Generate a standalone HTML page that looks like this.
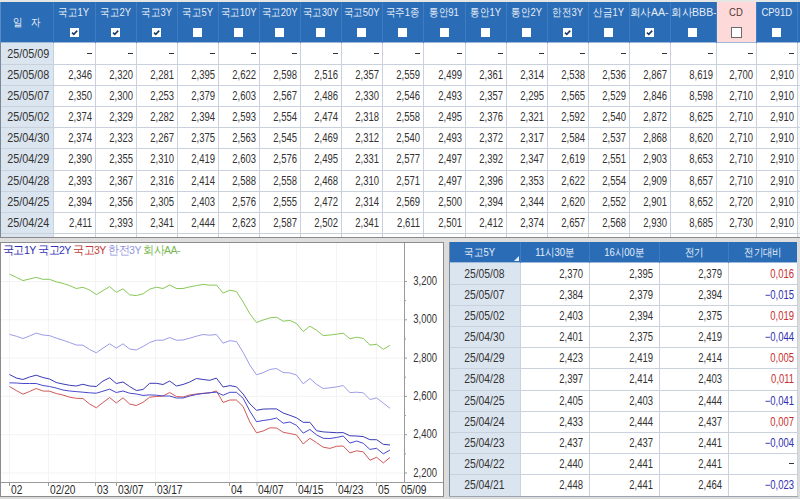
<!DOCTYPE html><html><head><meta charset="utf-8"><style>
html,body{margin:0;padding:0;}
body{width:800px;height:499px;overflow:hidden;position:relative;background:#dcdcdc;font-family:'Liberation Sans',sans-serif;}
.a{position:absolute;}
.n{position:absolute;text-align:right;font-size:12px;line-height:21px;padding-top:1px;color:#333;white-space:nowrap;}
.n span{display:inline-block;transform:scaleX(0.79);transform-origin:100% 50%;}
.d{position:absolute;text-align:center;font-size:12px;line-height:21px;padding-top:1px;padding-left:2px;color:#333;white-space:nowrap;}
.d span{display:inline-block;transform:scaleX(0.90);transform-origin:50% 50%;}
.ds{position:absolute;width:5px;height:1px;background:#333;}
.h{position:absolute;text-align:center;font-size:11px;line-height:12px;color:#e6eef8;white-space:nowrap;}
.h span{display:inline-block;transform:scaleX(0.86);transform-origin:50% 50%;}
.cb{position:absolute;width:9px;height:9px;background:#fff;}
.vl{position:absolute;width:1px;background:#c9d1dc;}
.hl{position:absolute;height:1px;background:#c9d1dc;}
</style></head><body>

<div class="a" style="left:0;top:0;width:800px;height:2px;background:#e6e6e4"></div>
<div class="a" style="left:0;top:2px;width:800px;height:41px;background:#2a6cb6"></div>
<div class="a" style="left:717px;top:2px;width:39px;height:41px;background:#fdd9d9"></div>
<div class="a" style="left:0;top:42px;width:800px;height:1px;background:#9fb9d8"></div>
<div class="a" style="left:0;top:43px;width:797px;height:194px;background:#fff"></div>
<div class="a" style="left:797px;top:43px;width:3px;height:194px;background:#f4f6f8"></div>
<div class="a" style="left:0;top:43px;width:53px;height:194px;background:#dbe5ef"></div>
<div class="h" style="left:0;top:16px;width:53px;"><span>일&nbsp;&nbsp;&nbsp;자</span></div>
<div class="h" style="left:53px;top:6px;width:42px;color:#e6eef8"><span>국고1Y</span></div>
<div class="cb" style="left:70px;top:28px;"></div>
<svg class="a" style="left:70px;top:28px" width="9" height="9" viewBox="0 0 9 9"><path d="M2 4.6 L3.8 6.4 L7.2 2.6" fill="none" stroke="#1d3c6a" stroke-width="1.6"/></svg>
<div class="h" style="left:95px;top:6px;width:41px;color:#e6eef8"><span>국고2Y</span></div>
<div class="cb" style="left:111px;top:28px;"></div>
<svg class="a" style="left:111px;top:28px" width="9" height="9" viewBox="0 0 9 9"><path d="M2 4.6 L3.8 6.4 L7.2 2.6" fill="none" stroke="#1d3c6a" stroke-width="1.6"/></svg>
<div class="h" style="left:136px;top:6px;width:41px;color:#e6eef8"><span>국고3Y</span></div>
<div class="cb" style="left:152px;top:28px;"></div>
<svg class="a" style="left:152px;top:28px" width="9" height="9" viewBox="0 0 9 9"><path d="M2 4.6 L3.8 6.4 L7.2 2.6" fill="none" stroke="#1d3c6a" stroke-width="1.6"/></svg>
<div class="h" style="left:177px;top:6px;width:41px;color:#e6eef8"><span>국고5Y</span></div>
<div class="cb" style="left:193px;top:28px;"></div>
<div class="h" style="left:218px;top:6px;width:41px;color:#e6eef8"><span>국고10Y</span></div>
<div class="cb" style="left:234px;top:28px;"></div>
<div class="h" style="left:259px;top:6px;width:41px;color:#e6eef8"><span>국고20Y</span></div>
<div class="cb" style="left:275px;top:28px;"></div>
<div class="h" style="left:300px;top:6px;width:41px;color:#e6eef8"><span>국고30Y</span></div>
<div class="cb" style="left:316px;top:28px;"></div>
<div class="h" style="left:341px;top:6px;width:41px;color:#e6eef8"><span>국고50Y</span></div>
<div class="cb" style="left:357px;top:28px;"></div>
<div class="h" style="left:382px;top:6px;width:41px;color:#e6eef8"><span>국주1종</span></div>
<div class="cb" style="left:398px;top:28px;"></div>
<div class="h" style="left:423px;top:6px;width:42px;color:#e6eef8"><span>통안91</span></div>
<div class="cb" style="left:440px;top:28px;"></div>
<div class="h" style="left:465px;top:6px;width:41px;color:#e6eef8"><span>통안1Y</span></div>
<div class="cb" style="left:481px;top:28px;"></div>
<div class="h" style="left:506px;top:6px;width:41px;color:#e6eef8"><span>통안2Y</span></div>
<div class="cb" style="left:522px;top:28px;"></div>
<div class="h" style="left:547px;top:6px;width:41px;color:#e6eef8"><span>한전3Y</span></div>
<div class="cb" style="left:563px;top:28px;"></div>
<svg class="a" style="left:563px;top:28px" width="9" height="9" viewBox="0 0 9 9"><path d="M2 4.6 L3.8 6.4 L7.2 2.6" fill="none" stroke="#1d3c6a" stroke-width="1.6"/></svg>
<div class="h" style="left:588px;top:6px;width:41px;color:#e6eef8"><span>산금1Y</span></div>
<div class="cb" style="left:604px;top:28px;"></div>
<div class="h" style="left:629px;top:6px;width:41px;color:#e6eef8"><span style="transform:scaleX(0.96)">회사AA-</span></div>
<div class="cb" style="left:645px;top:28px;"></div>
<svg class="a" style="left:645px;top:28px" width="9" height="9" viewBox="0 0 9 9"><path d="M2 4.6 L3.8 6.4 L7.2 2.6" fill="none" stroke="#1d3c6a" stroke-width="1.6"/></svg>
<div class="h" style="left:670px;top:6px;width:46px;color:#e6eef8"><span style="transform:scaleX(0.96)">회사BBB-</span></div>
<div class="cb" style="left:688px;top:28px;"></div>
<div class="h" style="left:716px;top:6px;width:40px;color:#533838"><span>CD</span></div>
<div class="cb" style="left:731px;top:27px;width:9px;height:9px;border:1px solid #6a6a6a;"></div>
<div class="h" style="left:756px;top:6px;width:41px;color:#e6eef8"><span>CP91D</span></div>
<div class="cb" style="left:772px;top:28px;"></div>
<div class="a" style="left:53px;top:2px;width:1px;height:41px;background:#3f7cc2"></div>
<div class="a" style="left:95px;top:2px;width:1px;height:41px;background:#3f7cc2"></div>
<div class="a" style="left:136px;top:2px;width:1px;height:41px;background:#3f7cc2"></div>
<div class="a" style="left:177px;top:2px;width:1px;height:41px;background:#3f7cc2"></div>
<div class="a" style="left:218px;top:2px;width:1px;height:41px;background:#3f7cc2"></div>
<div class="a" style="left:259px;top:2px;width:1px;height:41px;background:#3f7cc2"></div>
<div class="a" style="left:300px;top:2px;width:1px;height:41px;background:#3f7cc2"></div>
<div class="a" style="left:341px;top:2px;width:1px;height:41px;background:#3f7cc2"></div>
<div class="a" style="left:382px;top:2px;width:1px;height:41px;background:#3f7cc2"></div>
<div class="a" style="left:423px;top:2px;width:1px;height:41px;background:#3f7cc2"></div>
<div class="a" style="left:465px;top:2px;width:1px;height:41px;background:#3f7cc2"></div>
<div class="a" style="left:506px;top:2px;width:1px;height:41px;background:#3f7cc2"></div>
<div class="a" style="left:547px;top:2px;width:1px;height:41px;background:#3f7cc2"></div>
<div class="a" style="left:588px;top:2px;width:1px;height:41px;background:#3f7cc2"></div>
<div class="a" style="left:629px;top:2px;width:1px;height:41px;background:#3f7cc2"></div>
<div class="a" style="left:670px;top:2px;width:1px;height:41px;background:#3f7cc2"></div>
<div class="a" style="left:716px;top:2px;width:1px;height:41px;background:#3f7cc2"></div>
<div class="a" style="left:756px;top:2px;width:1px;height:41px;background:#3f7cc2"></div>
<div class="a" style="left:797px;top:2px;width:1px;height:41px;background:#3f7cc2"></div>
<div class="vl" style="left:53px;top:43px;height:194px;"></div>
<div class="vl" style="left:95px;top:43px;height:194px;"></div>
<div class="vl" style="left:136px;top:43px;height:194px;"></div>
<div class="vl" style="left:177px;top:43px;height:194px;"></div>
<div class="vl" style="left:218px;top:43px;height:194px;"></div>
<div class="vl" style="left:259px;top:43px;height:194px;"></div>
<div class="vl" style="left:300px;top:43px;height:194px;"></div>
<div class="vl" style="left:341px;top:43px;height:194px;"></div>
<div class="vl" style="left:382px;top:43px;height:194px;"></div>
<div class="vl" style="left:423px;top:43px;height:194px;"></div>
<div class="vl" style="left:465px;top:43px;height:194px;"></div>
<div class="vl" style="left:506px;top:43px;height:194px;"></div>
<div class="vl" style="left:547px;top:43px;height:194px;"></div>
<div class="vl" style="left:588px;top:43px;height:194px;"></div>
<div class="vl" style="left:629px;top:43px;height:194px;"></div>
<div class="vl" style="left:670px;top:43px;height:194px;"></div>
<div class="vl" style="left:716px;top:43px;height:194px;"></div>
<div class="vl" style="left:756px;top:43px;height:194px;"></div>
<div class="vl" style="left:797px;top:43px;height:194px;"></div>
<div class="hl" style="left:0;top:64px;width:800px;"></div>
<div class="hl" style="left:0;top:85px;width:800px;"></div>
<div class="hl" style="left:0;top:106px;width:800px;"></div>
<div class="hl" style="left:0;top:127px;width:800px;"></div>
<div class="hl" style="left:0;top:148px;width:800px;"></div>
<div class="hl" style="left:0;top:170px;width:800px;"></div>
<div class="hl" style="left:0;top:191px;width:800px;"></div>
<div class="hl" style="left:0;top:212px;width:800px;"></div>
<div class="hl" style="left:0;top:233px;width:800px;"></div>
<div class="d" style="left:0;top:43px;width:53px;"><span>25/05/09</span></div>
<div class="ds" style="left:87px;top:53px;"></div>
<div class="ds" style="left:128px;top:53px;"></div>
<div class="ds" style="left:169px;top:53px;"></div>
<div class="ds" style="left:210px;top:53px;"></div>
<div class="ds" style="left:251px;top:53px;"></div>
<div class="ds" style="left:292px;top:53px;"></div>
<div class="ds" style="left:333px;top:53px;"></div>
<div class="ds" style="left:374px;top:53px;"></div>
<div class="ds" style="left:415px;top:53px;"></div>
<div class="ds" style="left:457px;top:53px;"></div>
<div class="ds" style="left:498px;top:53px;"></div>
<div class="ds" style="left:539px;top:53px;"></div>
<div class="ds" style="left:580px;top:53px;"></div>
<div class="ds" style="left:621px;top:53px;"></div>
<div class="ds" style="left:662px;top:53px;"></div>
<div class="ds" style="left:708px;top:53px;"></div>
<div class="ds" style="left:748px;top:53px;"></div>
<div class="ds" style="left:789px;top:53px;"></div>
<div class="d" style="left:0;top:64px;width:53px;"><span>25/05/08</span></div>
<div class="n" style="left:53px;top:64px;width:39px;"><span>2,346</span></div>
<div class="n" style="left:95px;top:64px;width:38px;"><span>2,320</span></div>
<div class="n" style="left:136px;top:64px;width:38px;"><span>2,281</span></div>
<div class="n" style="left:177px;top:64px;width:38px;"><span>2,395</span></div>
<div class="n" style="left:218px;top:64px;width:38px;"><span>2,622</span></div>
<div class="n" style="left:259px;top:64px;width:38px;"><span>2,598</span></div>
<div class="n" style="left:300px;top:64px;width:38px;"><span>2,516</span></div>
<div class="n" style="left:341px;top:64px;width:38px;"><span>2,357</span></div>
<div class="n" style="left:382px;top:64px;width:38px;"><span>2,559</span></div>
<div class="n" style="left:423px;top:64px;width:39px;"><span>2,499</span></div>
<div class="n" style="left:465px;top:64px;width:38px;"><span>2,361</span></div>
<div class="n" style="left:506px;top:64px;width:38px;"><span>2,314</span></div>
<div class="n" style="left:547px;top:64px;width:38px;"><span>2,538</span></div>
<div class="n" style="left:588px;top:64px;width:38px;"><span>2,536</span></div>
<div class="n" style="left:629px;top:64px;width:38px;"><span>2,867</span></div>
<div class="n" style="left:670px;top:64px;width:43px;"><span>8,619</span></div>
<div class="n" style="left:716px;top:64px;width:37px;"><span>2,700</span></div>
<div class="n" style="left:756px;top:64px;width:38px;"><span>2,910</span></div>
<div class="d" style="left:0;top:85px;width:53px;"><span>25/05/07</span></div>
<div class="n" style="left:53px;top:85px;width:39px;"><span>2,350</span></div>
<div class="n" style="left:95px;top:85px;width:38px;"><span>2,300</span></div>
<div class="n" style="left:136px;top:85px;width:38px;"><span>2,253</span></div>
<div class="n" style="left:177px;top:85px;width:38px;"><span>2,379</span></div>
<div class="n" style="left:218px;top:85px;width:38px;"><span>2,603</span></div>
<div class="n" style="left:259px;top:85px;width:38px;"><span>2,567</span></div>
<div class="n" style="left:300px;top:85px;width:38px;"><span>2,486</span></div>
<div class="n" style="left:341px;top:85px;width:38px;"><span>2,330</span></div>
<div class="n" style="left:382px;top:85px;width:38px;"><span>2,546</span></div>
<div class="n" style="left:423px;top:85px;width:39px;"><span>2,493</span></div>
<div class="n" style="left:465px;top:85px;width:38px;"><span>2,357</span></div>
<div class="n" style="left:506px;top:85px;width:38px;"><span>2,295</span></div>
<div class="n" style="left:547px;top:85px;width:38px;"><span>2,565</span></div>
<div class="n" style="left:588px;top:85px;width:38px;"><span>2,529</span></div>
<div class="n" style="left:629px;top:85px;width:38px;"><span>2,846</span></div>
<div class="n" style="left:670px;top:85px;width:43px;"><span>8,598</span></div>
<div class="n" style="left:716px;top:85px;width:37px;"><span>2,710</span></div>
<div class="n" style="left:756px;top:85px;width:38px;"><span>2,910</span></div>
<div class="d" style="left:0;top:106px;width:53px;"><span>25/05/02</span></div>
<div class="n" style="left:53px;top:106px;width:39px;"><span>2,374</span></div>
<div class="n" style="left:95px;top:106px;width:38px;"><span>2,329</span></div>
<div class="n" style="left:136px;top:106px;width:38px;"><span>2,282</span></div>
<div class="n" style="left:177px;top:106px;width:38px;"><span>2,394</span></div>
<div class="n" style="left:218px;top:106px;width:38px;"><span>2,593</span></div>
<div class="n" style="left:259px;top:106px;width:38px;"><span>2,554</span></div>
<div class="n" style="left:300px;top:106px;width:38px;"><span>2,474</span></div>
<div class="n" style="left:341px;top:106px;width:38px;"><span>2,318</span></div>
<div class="n" style="left:382px;top:106px;width:38px;"><span>2,558</span></div>
<div class="n" style="left:423px;top:106px;width:39px;"><span>2,495</span></div>
<div class="n" style="left:465px;top:106px;width:38px;"><span>2,376</span></div>
<div class="n" style="left:506px;top:106px;width:38px;"><span>2,321</span></div>
<div class="n" style="left:547px;top:106px;width:38px;"><span>2,592</span></div>
<div class="n" style="left:588px;top:106px;width:38px;"><span>2,540</span></div>
<div class="n" style="left:629px;top:106px;width:38px;"><span>2,872</span></div>
<div class="n" style="left:670px;top:106px;width:43px;"><span>8,625</span></div>
<div class="n" style="left:716px;top:106px;width:37px;"><span>2,710</span></div>
<div class="n" style="left:756px;top:106px;width:38px;"><span>2,910</span></div>
<div class="d" style="left:0;top:127px;width:53px;"><span>25/04/30</span></div>
<div class="n" style="left:53px;top:127px;width:39px;"><span>2,374</span></div>
<div class="n" style="left:95px;top:127px;width:38px;"><span>2,323</span></div>
<div class="n" style="left:136px;top:127px;width:38px;"><span>2,267</span></div>
<div class="n" style="left:177px;top:127px;width:38px;"><span>2,375</span></div>
<div class="n" style="left:218px;top:127px;width:38px;"><span>2,563</span></div>
<div class="n" style="left:259px;top:127px;width:38px;"><span>2,545</span></div>
<div class="n" style="left:300px;top:127px;width:38px;"><span>2,469</span></div>
<div class="n" style="left:341px;top:127px;width:38px;"><span>2,312</span></div>
<div class="n" style="left:382px;top:127px;width:38px;"><span>2,540</span></div>
<div class="n" style="left:423px;top:127px;width:39px;"><span>2,493</span></div>
<div class="n" style="left:465px;top:127px;width:38px;"><span>2,372</span></div>
<div class="n" style="left:506px;top:127px;width:38px;"><span>2,317</span></div>
<div class="n" style="left:547px;top:127px;width:38px;"><span>2,584</span></div>
<div class="n" style="left:588px;top:127px;width:38px;"><span>2,537</span></div>
<div class="n" style="left:629px;top:127px;width:38px;"><span>2,868</span></div>
<div class="n" style="left:670px;top:127px;width:43px;"><span>8,620</span></div>
<div class="n" style="left:716px;top:127px;width:37px;"><span>2,710</span></div>
<div class="n" style="left:756px;top:127px;width:38px;"><span>2,910</span></div>
<div class="d" style="left:0;top:148px;width:53px;"><span>25/04/29</span></div>
<div class="n" style="left:53px;top:148px;width:39px;"><span>2,390</span></div>
<div class="n" style="left:95px;top:148px;width:38px;"><span>2,355</span></div>
<div class="n" style="left:136px;top:148px;width:38px;"><span>2,310</span></div>
<div class="n" style="left:177px;top:148px;width:38px;"><span>2,419</span></div>
<div class="n" style="left:218px;top:148px;width:38px;"><span>2,603</span></div>
<div class="n" style="left:259px;top:148px;width:38px;"><span>2,576</span></div>
<div class="n" style="left:300px;top:148px;width:38px;"><span>2,495</span></div>
<div class="n" style="left:341px;top:148px;width:38px;"><span>2,331</span></div>
<div class="n" style="left:382px;top:148px;width:38px;"><span>2,577</span></div>
<div class="n" style="left:423px;top:148px;width:39px;"><span>2,497</span></div>
<div class="n" style="left:465px;top:148px;width:38px;"><span>2,392</span></div>
<div class="n" style="left:506px;top:148px;width:38px;"><span>2,347</span></div>
<div class="n" style="left:547px;top:148px;width:38px;"><span>2,619</span></div>
<div class="n" style="left:588px;top:148px;width:38px;"><span>2,551</span></div>
<div class="n" style="left:629px;top:148px;width:38px;"><span>2,903</span></div>
<div class="n" style="left:670px;top:148px;width:43px;"><span>8,653</span></div>
<div class="n" style="left:716px;top:148px;width:37px;"><span>2,710</span></div>
<div class="n" style="left:756px;top:148px;width:38px;"><span>2,910</span></div>
<div class="d" style="left:0;top:170px;width:53px;"><span>25/04/28</span></div>
<div class="n" style="left:53px;top:170px;width:39px;"><span>2,393</span></div>
<div class="n" style="left:95px;top:170px;width:38px;"><span>2,367</span></div>
<div class="n" style="left:136px;top:170px;width:38px;"><span>2,316</span></div>
<div class="n" style="left:177px;top:170px;width:38px;"><span>2,414</span></div>
<div class="n" style="left:218px;top:170px;width:38px;"><span>2,588</span></div>
<div class="n" style="left:259px;top:170px;width:38px;"><span>2,558</span></div>
<div class="n" style="left:300px;top:170px;width:38px;"><span>2,468</span></div>
<div class="n" style="left:341px;top:170px;width:38px;"><span>2,310</span></div>
<div class="n" style="left:382px;top:170px;width:38px;"><span>2,571</span></div>
<div class="n" style="left:423px;top:170px;width:39px;"><span>2,497</span></div>
<div class="n" style="left:465px;top:170px;width:38px;"><span>2,396</span></div>
<div class="n" style="left:506px;top:170px;width:38px;"><span>2,353</span></div>
<div class="n" style="left:547px;top:170px;width:38px;"><span>2,622</span></div>
<div class="n" style="left:588px;top:170px;width:38px;"><span>2,554</span></div>
<div class="n" style="left:629px;top:170px;width:38px;"><span>2,909</span></div>
<div class="n" style="left:670px;top:170px;width:43px;"><span>8,657</span></div>
<div class="n" style="left:716px;top:170px;width:37px;"><span>2,710</span></div>
<div class="n" style="left:756px;top:170px;width:38px;"><span>2,910</span></div>
<div class="d" style="left:0;top:191px;width:53px;"><span>25/04/25</span></div>
<div class="n" style="left:53px;top:191px;width:39px;"><span>2,394</span></div>
<div class="n" style="left:95px;top:191px;width:38px;"><span>2,356</span></div>
<div class="n" style="left:136px;top:191px;width:38px;"><span>2,305</span></div>
<div class="n" style="left:177px;top:191px;width:38px;"><span>2,403</span></div>
<div class="n" style="left:218px;top:191px;width:38px;"><span>2,576</span></div>
<div class="n" style="left:259px;top:191px;width:38px;"><span>2,555</span></div>
<div class="n" style="left:300px;top:191px;width:38px;"><span>2,472</span></div>
<div class="n" style="left:341px;top:191px;width:38px;"><span>2,314</span></div>
<div class="n" style="left:382px;top:191px;width:38px;"><span>2,569</span></div>
<div class="n" style="left:423px;top:191px;width:39px;"><span>2,500</span></div>
<div class="n" style="left:465px;top:191px;width:38px;"><span>2,394</span></div>
<div class="n" style="left:506px;top:191px;width:38px;"><span>2,344</span></div>
<div class="n" style="left:547px;top:191px;width:38px;"><span>2,620</span></div>
<div class="n" style="left:588px;top:191px;width:38px;"><span>2,552</span></div>
<div class="n" style="left:629px;top:191px;width:38px;"><span>2,901</span></div>
<div class="n" style="left:670px;top:191px;width:43px;"><span>8,652</span></div>
<div class="n" style="left:716px;top:191px;width:37px;"><span>2,720</span></div>
<div class="n" style="left:756px;top:191px;width:38px;"><span>2,910</span></div>
<div class="d" style="left:0;top:212px;width:53px;"><span>25/04/24</span></div>
<div class="n" style="left:53px;top:212px;width:39px;"><span>2,411</span></div>
<div class="n" style="left:95px;top:212px;width:38px;"><span>2,393</span></div>
<div class="n" style="left:136px;top:212px;width:38px;"><span>2,341</span></div>
<div class="n" style="left:177px;top:212px;width:38px;"><span>2,444</span></div>
<div class="n" style="left:218px;top:212px;width:38px;"><span>2,623</span></div>
<div class="n" style="left:259px;top:212px;width:38px;"><span>2,587</span></div>
<div class="n" style="left:300px;top:212px;width:38px;"><span>2,502</span></div>
<div class="n" style="left:341px;top:212px;width:38px;"><span>2,341</span></div>
<div class="n" style="left:382px;top:212px;width:38px;"><span>2,611</span></div>
<div class="n" style="left:423px;top:212px;width:39px;"><span>2,501</span></div>
<div class="n" style="left:465px;top:212px;width:38px;"><span>2,412</span></div>
<div class="n" style="left:506px;top:212px;width:38px;"><span>2,374</span></div>
<div class="n" style="left:547px;top:212px;width:38px;"><span>2,657</span></div>
<div class="n" style="left:588px;top:212px;width:38px;"><span>2,568</span></div>
<div class="n" style="left:629px;top:212px;width:38px;"><span>2,930</span></div>
<div class="n" style="left:670px;top:212px;width:43px;"><span>8,685</span></div>
<div class="n" style="left:716px;top:212px;width:37px;"><span>2,730</span></div>
<div class="n" style="left:756px;top:212px;width:38px;"><span>2,910</span></div>
<div class="a" style="left:0;top:2px;width:1px;height:41px;background:#5a8cc8"></div>
<div class="a" style="left:0;top:43px;width:1px;height:194px;background:#7a8898"></div>
<div class="a" style="left:0;top:237px;width:800px;height:1px;background:#8a8a8a"></div>
<div class="a" style="left:0;top:238px;width:800px;height:4px;background:#dedede"></div>
<div class="a" style="left:0;top:242px;width:444px;height:255px;background:#fff"></div>
<svg class="a" style="left:0;top:0" width="800" height="499" viewBox="0 0 800 499">
<rect x="0.5" y="242.5" width="443" height="254" fill="none" stroke="#8c8c8c" stroke-width="1"/>
<line x1="1" y1="281.5" x2="404" y2="281.5" stroke="#f3f3f3" stroke-width="1"/>
<line x1="1" y1="319.8" x2="404" y2="319.8" stroke="#f3f3f3" stroke-width="1"/>
<line x1="1" y1="358.1" x2="404" y2="358.1" stroke="#f3f3f3" stroke-width="1"/>
<line x1="1" y1="396.4" x2="404" y2="396.4" stroke="#f3f3f3" stroke-width="1"/>
<line x1="1" y1="434.7" x2="404" y2="434.7" stroke="#f3f3f3" stroke-width="1"/>
<line x1="1" y1="473.0" x2="404" y2="473.0" stroke="#f3f3f3" stroke-width="1"/>
<line x1="9.5" y1="243" x2="9.5" y2="482" stroke="#f3f3f3" stroke-width="1"/>
<line x1="48.5" y1="243" x2="48.5" y2="482" stroke="#f3f3f3" stroke-width="1"/>
<line x1="95.5" y1="243" x2="95.5" y2="482" stroke="#f3f3f3" stroke-width="1"/>
<line x1="116.5" y1="243" x2="116.5" y2="482" stroke="#f3f3f3" stroke-width="1"/>
<line x1="155.5" y1="243" x2="155.5" y2="482" stroke="#f3f3f3" stroke-width="1"/>
<line x1="229.5" y1="243" x2="229.5" y2="482" stroke="#f3f3f3" stroke-width="1"/>
<line x1="257.0" y1="243" x2="257.0" y2="482" stroke="#f3f3f3" stroke-width="1"/>
<line x1="296.5" y1="243" x2="296.5" y2="482" stroke="#f3f3f3" stroke-width="1"/>
<line x1="336.5" y1="243" x2="336.5" y2="482" stroke="#f3f3f3" stroke-width="1"/>
<line x1="376.5" y1="243" x2="376.5" y2="482" stroke="#f3f3f3" stroke-width="1"/>
<line x1="404.5" y1="243" x2="404.5" y2="482.5" stroke="#9a9a9a" stroke-width="1"/>
<line x1="1" y1="482.5" x2="443" y2="482.5" stroke="#9a9a9a" stroke-width="1"/>
<line x1="404" y1="281.5" x2="407" y2="281.5" stroke="#9a9a9a" stroke-width="1"/>
<line x1="404" y1="319.8" x2="407" y2="319.8" stroke="#9a9a9a" stroke-width="1"/>
<line x1="404" y1="300.6" x2="406" y2="300.6" stroke="#9a9a9a" stroke-width="1"/>
<line x1="404" y1="358.1" x2="407" y2="358.1" stroke="#9a9a9a" stroke-width="1"/>
<line x1="404" y1="338.9" x2="406" y2="338.9" stroke="#9a9a9a" stroke-width="1"/>
<line x1="404" y1="396.4" x2="407" y2="396.4" stroke="#9a9a9a" stroke-width="1"/>
<line x1="404" y1="377.2" x2="406" y2="377.2" stroke="#9a9a9a" stroke-width="1"/>
<line x1="404" y1="434.7" x2="407" y2="434.7" stroke="#9a9a9a" stroke-width="1"/>
<line x1="404" y1="415.6" x2="406" y2="415.6" stroke="#9a9a9a" stroke-width="1"/>
<line x1="404" y1="473.0" x2="407" y2="473.0" stroke="#9a9a9a" stroke-width="1"/>
<line x1="404" y1="453.9" x2="406" y2="453.9" stroke="#9a9a9a" stroke-width="1"/>
<line x1="9.5" y1="482" x2="9.5" y2="486" stroke="#9a9a9a" stroke-width="1"/>
<line x1="48.5" y1="482" x2="48.5" y2="486" stroke="#9a9a9a" stroke-width="1"/>
<line x1="95.5" y1="482" x2="95.5" y2="486" stroke="#9a9a9a" stroke-width="1"/>
<line x1="116.5" y1="482" x2="116.5" y2="486" stroke="#9a9a9a" stroke-width="1"/>
<line x1="155.5" y1="482" x2="155.5" y2="486" stroke="#9a9a9a" stroke-width="1"/>
<line x1="229.5" y1="482" x2="229.5" y2="486" stroke="#9a9a9a" stroke-width="1"/>
<line x1="257.0" y1="482" x2="257.0" y2="486" stroke="#9a9a9a" stroke-width="1"/>
<line x1="296.5" y1="482" x2="296.5" y2="486" stroke="#9a9a9a" stroke-width="1"/>
<line x1="336.5" y1="482" x2="336.5" y2="486" stroke="#9a9a9a" stroke-width="1"/>
<line x1="376.5" y1="482" x2="376.5" y2="486" stroke="#9a9a9a" stroke-width="1"/>
<polyline points="9.5,274.2 16.2,277.2 22.9,280.6 29.5,279.0 36.2,277.4 42.9,279.3 49.5,279.3 56.2,281.8 62.9,283.4 69.6,285.6 76.2,288.5 82.9,287.3 89.6,290.0 96.3,294.6 103.0,290.6 109.6,286.6 116.3,292.3 123.0,288.8 129.6,294.8 136.3,295.6 143.0,293.8 149.7,289.2 156.3,287.2 163.0,288.5 169.7,285.0 176.4,288.5 183.0,288.5 189.7,286.9 196.4,285.6 203.1,284.4 209.8,285.2 216.4,285.0 223.1,293.1 229.8,290.2 236.4,291.5 243.1,301.9 249.8,313.8 256.5,322.5 263.1,320.0 269.8,317.9 276.5,317.2 283.2,321.2 289.8,320.4 296.5,323.5 303.2,331.5 309.9,326.2 316.6,330.2 323.2,335.6 329.9,335.0 336.6,334.2 343.2,333.2 349.9,338.8 356.6,337.2 363.3,338.4 369.9,345.1 376.6,344.3 383.3,349.3 390.0,345.3" fill="none" stroke="#88c858" stroke-width="1"/>
<polyline points="9.5,334.4 16.2,336.2 22.9,338.5 29.5,336.0 36.2,333.1 42.9,335.0 49.5,335.6 56.2,338.1 62.9,340.2 69.6,342.5 76.2,345.0 82.9,345.2 89.6,349.5 96.3,352.8 103.0,348.1 109.6,343.8 116.3,348.1 123.0,343.8 129.6,349.0 136.3,350.0 143.0,346.5 149.7,342.5 156.3,340.2 163.0,340.2 169.7,337.5 176.4,340.2 183.0,340.0 189.7,338.2 196.4,336.2 203.1,334.5 209.8,335.2 216.4,334.5 223.1,343.2 229.8,340.7 236.4,341.5 243.1,352.3 249.8,365.0 256.5,374.8 263.1,372.7 269.8,369.5 276.5,368.5 283.2,372.5 289.8,372.9 296.5,375.0 303.2,383.8 309.9,378.5 316.6,384.4 323.2,388.5 329.9,387.8 336.6,386.9 343.2,385.5 349.9,392.6 356.6,392.2 363.3,392.8 369.9,399.5 376.6,397.9 383.3,403.1 390.0,408.3" fill="none" stroke="#9c9ce8" stroke-width="1"/>
<polyline points="9.5,386.5 16.2,390.5 22.9,394.2 29.5,391.5 36.2,388.5 42.9,391.0 49.5,391.2 56.2,393.5 62.9,395.0 69.6,397.2 76.2,398.3 82.9,398.5 89.6,404.0 96.3,407.8 103.0,402.5 109.6,397.5 116.3,403.0 123.0,397.8 129.6,404.0 136.3,405.5 143.0,402.3 149.7,397.2 156.3,396.5 163.0,396.0 169.7,392.5 176.4,396.5 183.0,397.0 189.7,395.0 196.4,394.0 203.1,393.3 209.8,393.0 216.4,390.9 223.1,402.5 229.8,400.0 236.4,400.0 243.1,406.5 249.8,422.0 256.5,432.8 263.1,431.0 269.8,427.8 276.5,428.0 283.2,432.3 289.8,433.5 296.5,434.9 303.2,443.9 309.9,438.3 316.6,442.7 323.2,447.2 329.9,448.4 336.6,446.3 343.2,446.0 349.9,452.9 356.6,450.8 363.3,451.9 369.9,460.2 376.6,457.3 383.3,462.9 390.0,457.5" fill="none" stroke="#d05858" stroke-width="1"/>
<polyline points="9.5,382.8 16.2,383.0 22.9,383.5 29.5,383.5 36.2,383.5 42.9,385.5 49.5,386.5 56.2,388.0 62.9,390.0 69.6,391.0 76.2,391.6 82.9,392.2 89.6,392.8 96.3,393.2 103.0,391.2 109.6,389.2 116.3,392.5 123.0,391.0 129.6,393.2 136.3,394.0 143.0,395.4 149.7,394.9 156.3,395.2 163.0,396.0 169.7,396.0 176.4,398.0 183.0,398.0 189.7,396.0 196.4,394.5 203.1,393.5 209.8,392.6 216.4,392.2 223.1,395.3 229.8,392.3 236.4,392.3 243.1,398.2 249.8,411.0 256.5,421.7 263.1,420.5 269.8,419.6 276.5,418.0 283.2,423.2 289.8,422.0 296.5,425.3 303.2,433.1 309.9,429.5 316.6,434.9 323.2,438.3 329.9,438.5 336.6,437.5 343.2,436.0 349.9,443.1 356.6,441.0 363.3,443.3 369.9,449.4 376.6,448.3 383.3,453.9 390.0,450.0" fill="none" stroke="#4848cc" stroke-width="1"/>
<polyline points="9.5,374.5 16.2,378.0 22.9,379.5 29.5,377.0 36.2,375.2 42.9,377.5 49.5,379.0 56.2,382.5 62.9,384.0 69.6,385.3 76.2,386.0 82.9,384.3 89.6,386.0 96.3,386.5 103.0,381.0 109.6,377.8 116.3,383.5 123.0,382.0 129.6,386.5 136.3,390.5 143.0,389.5 149.7,383.3 156.3,383.3 163.0,384.5 169.7,381.0 176.4,386.0 183.0,384.5 189.7,382.0 196.4,378.5 203.1,379.5 209.8,380.3 216.4,378.1 223.1,387.0 229.8,385.6 236.4,386.8 243.1,394.0 249.8,403.8 256.5,410.3 263.1,409.1 269.8,408.9 276.5,408.9 283.2,413.0 289.8,415.3 296.5,417.8 303.2,422.3 309.9,422.3 316.6,430.7 323.2,431.9 329.9,432.3 336.6,432.7 343.2,432.6 349.9,435.8 356.6,436.0 363.3,436.6 369.9,439.7 376.6,439.7 383.3,444.3 390.0,445.0" fill="none" stroke="#3a3ab6" stroke-width="1"/>
</svg>
<div class="a" style="left:3px;top:243px;font-size:11.5px;line-height:14px;white-space:nowrap;letter-spacing:-0.6px;transform:scaleX(0.92);transform-origin:0 50%"><span style="color:#2c2ca8">국고1Y</span> <span style="color:#3434b8">국고2Y</span> <span style="color:#c03a3a">국고3Y</span> <span style="color:#9494e0">한전3Y</span> <span style="color:#78b850">회사AA-</span></div>
<div class="n" style="left:405px;top:273.0px;width:32px;line-height:14px;"><span>3,200</span></div>
<div class="n" style="left:405px;top:311.3px;width:32px;line-height:14px;"><span>3,000</span></div>
<div class="n" style="left:405px;top:349.6px;width:32px;line-height:14px;"><span>2,800</span></div>
<div class="n" style="left:405px;top:387.9px;width:32px;line-height:14px;"><span>2,600</span></div>
<div class="n" style="left:405px;top:426.2px;width:32px;line-height:14px;"><span>2,400</span></div>
<div class="n" style="left:405px;top:464.5px;width:32px;line-height:14px;"><span>2,200</span></div>
<div class="a" style="left:10.5px;top:482.5px;font-size:12px;line-height:14px;color:#2a2a2a;white-space:nowrap"><span style="display:inline-block;transform:scaleX(0.85);transform-origin:0 50%">02</span></div>
<div class="a" style="left:49.5px;top:482.5px;font-size:12px;line-height:14px;color:#2a2a2a;white-space:nowrap"><span style="display:inline-block;transform:scaleX(0.85);transform-origin:0 50%">02/20</span></div>
<div class="a" style="left:96.5px;top:482.5px;font-size:12px;line-height:14px;color:#2a2a2a;white-space:nowrap"><span style="display:inline-block;transform:scaleX(0.85);transform-origin:0 50%">03</span></div>
<div class="a" style="left:117.5px;top:482.5px;font-size:12px;line-height:14px;color:#2a2a2a;white-space:nowrap"><span style="display:inline-block;transform:scaleX(0.85);transform-origin:0 50%">03/07</span></div>
<div class="a" style="left:156.5px;top:482.5px;font-size:12px;line-height:14px;color:#2a2a2a;white-space:nowrap"><span style="display:inline-block;transform:scaleX(0.85);transform-origin:0 50%">03/17</span></div>
<div class="a" style="left:230.5px;top:482.5px;font-size:12px;line-height:14px;color:#2a2a2a;white-space:nowrap"><span style="display:inline-block;transform:scaleX(0.85);transform-origin:0 50%">04</span></div>
<div class="a" style="left:258.0px;top:482.5px;font-size:12px;line-height:14px;color:#2a2a2a;white-space:nowrap"><span style="display:inline-block;transform:scaleX(0.85);transform-origin:0 50%">04/07</span></div>
<div class="a" style="left:297.5px;top:482.5px;font-size:12px;line-height:14px;color:#2a2a2a;white-space:nowrap"><span style="display:inline-block;transform:scaleX(0.85);transform-origin:0 50%">04/15</span></div>
<div class="a" style="left:337.5px;top:482.5px;font-size:12px;line-height:14px;color:#2a2a2a;white-space:nowrap"><span style="display:inline-block;transform:scaleX(0.85);transform-origin:0 50%">04/23</span></div>
<div class="a" style="left:377.5px;top:482.5px;font-size:12px;line-height:14px;color:#2a2a2a;white-space:nowrap"><span style="display:inline-block;transform:scaleX(0.85);transform-origin:0 50%">05</span></div>
<div class="a" style="left:400.5px;top:482.5px;font-size:12px;line-height:14px;color:#2a2a2a;white-space:nowrap"><span style="display:inline-block;transform:scaleX(0.85);transform-origin:0 50%">05/09</span></div>
<div class="a" style="left:449px;top:242px;width:348px;height:21px;background:#2a6cb6"></div>
<div class="a" style="left:449px;top:262px;width:348px;height:1px;background:#9fb9d8"></div>
<div class="a" style="left:449px;top:263px;width:348px;height:234px;background:#fff"></div>
<div class="a" style="left:449px;top:263px;width:71px;height:234px;background:#dbe5ef"></div>
<div class="h" style="left:444px;top:246px;width:71px;"><span>국고5Y</span></div>
<div class="h" style="left:520px;top:246px;width:69px;"><span>11시30분</span></div>
<div class="h" style="left:589px;top:246px;width:70px;"><span>16시00분</span></div>
<div class="h" style="left:659px;top:246px;width:69px;"><span>전기</span></div>
<div class="h" style="left:728px;top:246px;width:69px;"><span>전기대비</span></div>
<div class="a" style="left:520px;top:242px;width:1px;height:21px;background:#3f7cc2"></div>
<div class="a" style="left:589px;top:242px;width:1px;height:21px;background:#3f7cc2"></div>
<div class="a" style="left:659px;top:242px;width:1px;height:21px;background:#3f7cc2"></div>
<div class="a" style="left:728px;top:242px;width:1px;height:21px;background:#3f7cc2"></div>
<svg class="a" style="left:514px;top:256px" width="5" height="5"><path d="M5 0 L5 5 L0 5 Z" fill="#e6eef8"/></svg>
<div class="vl" style="left:520px;top:263px;height:234px;"></div>
<div class="vl" style="left:589px;top:263px;height:234px;"></div>
<div class="vl" style="left:659px;top:263px;height:234px;"></div>
<div class="vl" style="left:728px;top:263px;height:234px;"></div>
<div class="vl" style="left:797px;top:263px;height:234px;"></div>
<div class="hl" style="left:449px;top:284px;width:348px;"></div>
<div class="hl" style="left:449px;top:305px;width:348px;"></div>
<div class="hl" style="left:449px;top:326px;width:348px;"></div>
<div class="hl" style="left:449px;top:347px;width:348px;"></div>
<div class="hl" style="left:449px;top:368px;width:348px;"></div>
<div class="hl" style="left:449px;top:390px;width:348px;"></div>
<div class="hl" style="left:449px;top:411px;width:348px;"></div>
<div class="hl" style="left:449px;top:432px;width:348px;"></div>
<div class="hl" style="left:449px;top:453px;width:348px;"></div>
<div class="hl" style="left:449px;top:474px;width:348px;"></div>
<div class="d" style="left:447px;top:263px;width:71px;"><span style="transform:scaleX(0.86)">25/05/08</span></div>
<div class="n" style="left:520px;top:263px;width:63px;color:#333"><span>2,370</span></div>
<div class="n" style="left:589px;top:263px;width:64px;color:#333"><span>2,395</span></div>
<div class="n" style="left:659px;top:263px;width:63px;color:#333"><span>2,379</span></div>
<div class="n" style="left:728px;top:263px;width:66px;color:#c83030"><span>0,016</span></div>
<div class="d" style="left:447px;top:284px;width:71px;"><span style="transform:scaleX(0.86)">25/05/07</span></div>
<div class="n" style="left:520px;top:284px;width:63px;color:#333"><span>2,384</span></div>
<div class="n" style="left:589px;top:284px;width:64px;color:#333"><span>2,379</span></div>
<div class="n" style="left:659px;top:284px;width:63px;color:#333"><span>2,394</span></div>
<div class="n" style="left:728px;top:284px;width:66px;color:#3030b0"><span>−0,015</span></div>
<div class="d" style="left:447px;top:305px;width:71px;"><span style="transform:scaleX(0.86)">25/05/02</span></div>
<div class="n" style="left:520px;top:305px;width:63px;color:#333"><span>2,403</span></div>
<div class="n" style="left:589px;top:305px;width:64px;color:#333"><span>2,394</span></div>
<div class="n" style="left:659px;top:305px;width:63px;color:#333"><span>2,375</span></div>
<div class="n" style="left:728px;top:305px;width:66px;color:#c83030"><span>0,019</span></div>
<div class="d" style="left:447px;top:326px;width:71px;"><span style="transform:scaleX(0.86)">25/04/30</span></div>
<div class="n" style="left:520px;top:326px;width:63px;color:#333"><span>2,401</span></div>
<div class="n" style="left:589px;top:326px;width:64px;color:#333"><span>2,375</span></div>
<div class="n" style="left:659px;top:326px;width:63px;color:#333"><span>2,419</span></div>
<div class="n" style="left:728px;top:326px;width:66px;color:#3030b0"><span>−0,044</span></div>
<div class="d" style="left:447px;top:347px;width:71px;"><span style="transform:scaleX(0.86)">25/04/29</span></div>
<div class="n" style="left:520px;top:347px;width:63px;color:#333"><span>2,423</span></div>
<div class="n" style="left:589px;top:347px;width:64px;color:#333"><span>2,419</span></div>
<div class="n" style="left:659px;top:347px;width:63px;color:#333"><span>2,414</span></div>
<div class="n" style="left:728px;top:347px;width:66px;color:#c83030"><span>0,005</span></div>
<div class="d" style="left:447px;top:368px;width:71px;"><span style="transform:scaleX(0.86)">25/04/28</span></div>
<div class="n" style="left:520px;top:368px;width:63px;color:#333"><span>2,397</span></div>
<div class="n" style="left:589px;top:368px;width:64px;color:#333"><span>2,414</span></div>
<div class="n" style="left:659px;top:368px;width:63px;color:#333"><span>2,403</span></div>
<div class="n" style="left:728px;top:368px;width:66px;color:#c83030"><span>0,011</span></div>
<div class="d" style="left:447px;top:390px;width:71px;"><span style="transform:scaleX(0.86)">25/04/25</span></div>
<div class="n" style="left:520px;top:390px;width:63px;color:#333"><span>2,405</span></div>
<div class="n" style="left:589px;top:390px;width:64px;color:#333"><span>2,403</span></div>
<div class="n" style="left:659px;top:390px;width:63px;color:#333"><span>2,444</span></div>
<div class="n" style="left:728px;top:390px;width:66px;color:#3030b0"><span>−0,041</span></div>
<div class="d" style="left:447px;top:411px;width:71px;"><span style="transform:scaleX(0.86)">25/04/24</span></div>
<div class="n" style="left:520px;top:411px;width:63px;color:#333"><span>2,433</span></div>
<div class="n" style="left:589px;top:411px;width:64px;color:#333"><span>2,444</span></div>
<div class="n" style="left:659px;top:411px;width:63px;color:#333"><span>2,437</span></div>
<div class="n" style="left:728px;top:411px;width:66px;color:#c83030"><span>0,007</span></div>
<div class="d" style="left:447px;top:432px;width:71px;"><span style="transform:scaleX(0.86)">25/04/23</span></div>
<div class="n" style="left:520px;top:432px;width:63px;color:#333"><span>2,437</span></div>
<div class="n" style="left:589px;top:432px;width:64px;color:#333"><span>2,437</span></div>
<div class="n" style="left:659px;top:432px;width:63px;color:#333"><span>2,441</span></div>
<div class="n" style="left:728px;top:432px;width:66px;color:#3030b0"><span>−0,004</span></div>
<div class="d" style="left:447px;top:453px;width:71px;"><span style="transform:scaleX(0.86)">25/04/22</span></div>
<div class="n" style="left:520px;top:453px;width:63px;color:#333"><span>2,440</span></div>
<div class="n" style="left:589px;top:453px;width:64px;color:#333"><span>2,441</span></div>
<div class="n" style="left:659px;top:453px;width:63px;color:#333"><span>2,441</span></div>
<div class="ds" style="left:789px;top:463px;"></div>
<div class="d" style="left:447px;top:474px;width:71px;"><span style="transform:scaleX(0.86)">25/04/21</span></div>
<div class="n" style="left:520px;top:474px;width:63px;color:#333"><span>2,448</span></div>
<div class="n" style="left:589px;top:474px;width:64px;color:#333"><span>2,441</span></div>
<div class="n" style="left:659px;top:474px;width:63px;color:#333"><span>2,464</span></div>
<div class="n" style="left:728px;top:474px;width:66px;color:#3030b0"><span>−0,023</span></div>
<div class="a" style="left:449px;top:242px;width:1px;height:255px;background:#7d8a98"></div>
<div class="a" style="left:449px;top:496px;width:349px;height:1px;background:#9aa6b2"></div>
</body></html>
